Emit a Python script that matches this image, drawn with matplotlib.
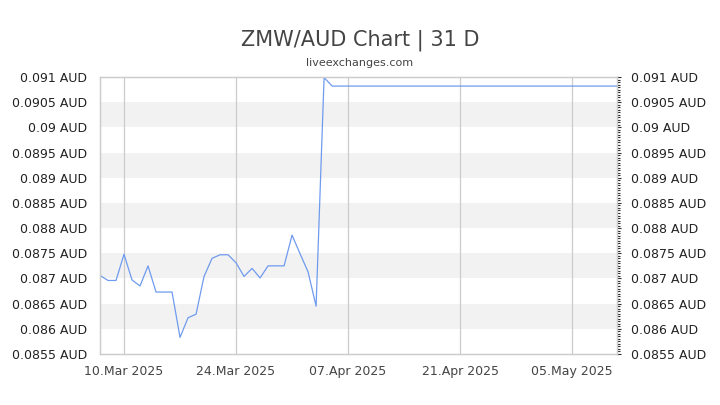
import numpy as np
import pandas as pd
import matplotlib
matplotlib.use("Agg")
import matplotlib.pyplot as plt
import matplotlib.dates as mdates
from matplotlib.ticker import MultipleLocator, FuncFormatter

# daily ZMW/AUD rates (7 Mar 2025 onwards)
rates_mar_apr = [0.08706, 0.08696, 0.08696, 0.08748, 0.08697, 0.08685, 0.08725,
                 0.08673, 0.08673, 0.08673, 0.08583, 0.08622, 0.08629, 0.08704,
                 0.08740, 0.08747, 0.08747, 0.08731, 0.08704, 0.08720, 0.08701,
                 0.08725, 0.08725, 0.08725, 0.08786, 0.08749, 0.08713, 0.08645,
                 0.09099]
rates_flat = [0.09082] * 37
rates = rates_mar_apr + rates_flat
dates = pd.date_range("2025-03-07", periods=len(rates), freq="D")

tick_dates = pd.to_datetime(["2025-03-10", "2025-03-24", "2025-04-07",
                             "2025-04-21", "2025-05-05"])
tick_labels = ["10.Mar 2025", "24.Mar 2025", "07.Apr 2025",
               "21.Apr 2025", "05.May 2025"]
ymin, ymax = 0.0855, 0.091

fig = plt.figure(figsize=(7.2, 4.05), dpi=100)
ax = fig.add_axes([100/720, 1-354/405, 517/720, 277/405])

# alternating bands
for lo in np.arange(0.086, 0.0905, 0.001):
    ax.axhspan(lo, lo + 0.0005, color="#f2f2f2", zorder=0, lw=0)

for d in tick_dates:
    ax.axvline(d, color="#cccccc", lw=0.9, zorder=1)

ax.plot(dates, rates, color="#6f9bef", lw=0.9, zorder=3)

ax.set_xlim(pd.Timestamp("2025-03-07"), pd.Timestamp("2025-03-07") + pd.Timedelta(days=64.6))
ax.set_ylim(ymin, ymax)

ax.set_xticks(tick_dates)
ax.set_xticklabels(tick_labels)
ax.tick_params(axis="x", length=0, pad=8, labelsize=9, labelcolor="#444444")

fmt = FuncFormatter(lambda v, p: ("%.4f" % v).rstrip("0").rstrip(".") + " AUD")
ax.yaxis.set_major_locator(MultipleLocator(0.0005))
ax.yaxis.set_major_formatter(fmt)
ax.tick_params(axis="y", length=0, pad=9, labelsize=9, labelcolor="#222222")

ax2 = ax.twinx()
ax2.set_ylim(ymin, ymax)
ax2.yaxis.set_major_locator(MultipleLocator(0.0005))
ax2.yaxis.set_minor_locator(MultipleLocator(0.00005))
ax2.yaxis.set_major_formatter(fmt)
ax2.tick_params(axis="y", which="major", length=3, width=0.8, color="#333333",
                pad=7, labelsize=9, labelcolor="#222222")
ax2.tick_params(axis="y", which="minor", length=2, width=0.8, color="#333333")

for a in (ax, ax2):
    for s in a.spines.values():
        s.set_color("#cccccc")
        s.set_linewidth(0.9)

fig.text(0.5, 1-40/405, "ZMW/AUD Chart | 31 D", ha="center", va="center",
         fontsize=15, color="#444444")
fig.text(0.5, 1-63/405, "liveexchanges.com", ha="center", va="center",
         fontsize=8, color="#444444")

fig.savefig("out.png", dpi=100)
